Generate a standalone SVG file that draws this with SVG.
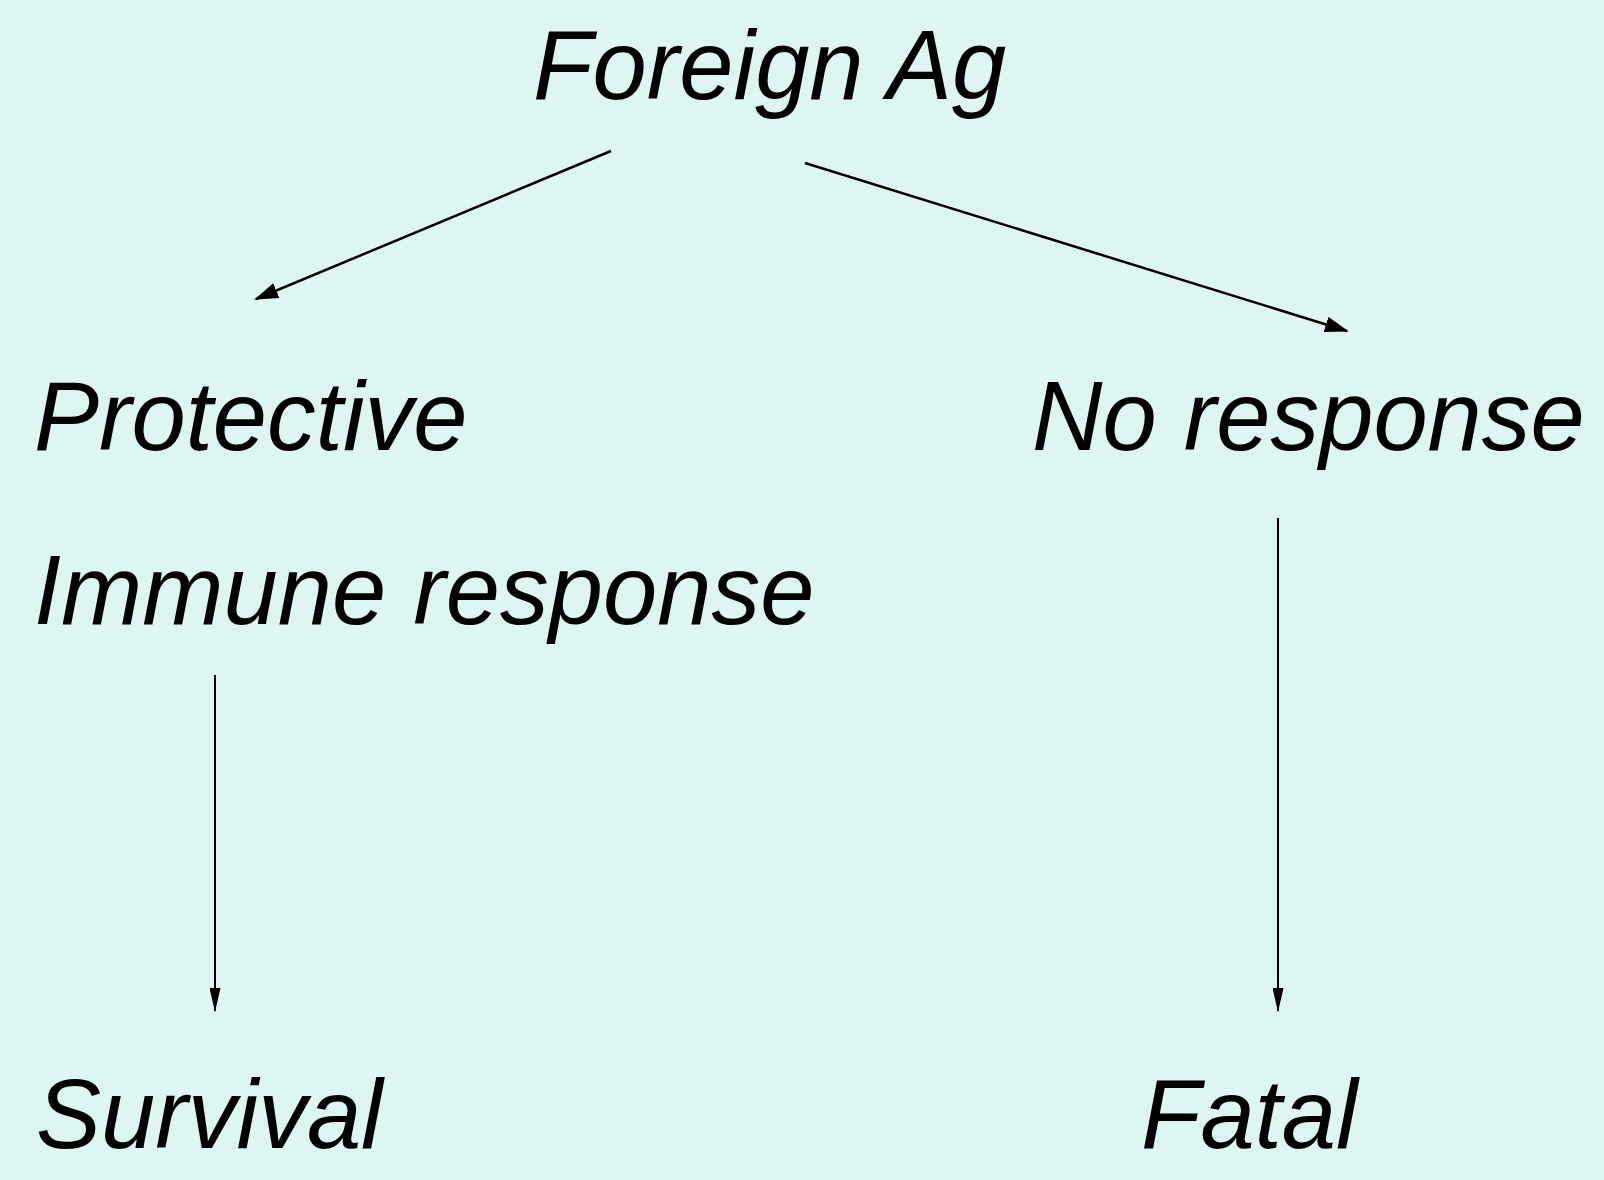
<svg xmlns="http://www.w3.org/2000/svg" width="1604" height="1180" viewBox="0 0 1604 1180">
<style>
.t{font-family:"Liberation Sans",Arial,sans-serif;font-style:italic;font-size:97.5px;fill:#000}
.c{stroke:#000;stroke-width:2.5;fill:none}
.v{stroke:#000;stroke-width:2;fill:none}
</style>
<defs>
<marker id="ah" viewBox="0 0 24 16" refX="22" refY="8" markerWidth="24" markerHeight="16" markerUnits="userSpaceOnUse" orient="auto"><path d="M0,0 L24,8 L0,16 Z" fill="#000"/></marker>
<marker id="av" viewBox="0 0 24 11" refX="23" refY="5.5" markerWidth="24" markerHeight="11" markerUnits="userSpaceOnUse" orient="auto"><path d="M0,0 L24,5.5 L0,11 Z" fill="#000"/></marker>
</defs>
<rect width="1604" height="1180" fill="#DDF6F1"/>
<g id="connectors">
<line class="c" x1="611" y1="151" x2="256" y2="299" marker-end="url(#ah)"/>
<line class="c" x1="805" y1="163" x2="1347" y2="331" marker-end="url(#ah)"/>
<line class="v" x1="215" y1="675" x2="215" y2="1011" marker-end="url(#av)"/>
<line class="v" x1="1278" y1="518" x2="1278" y2="1011" marker-end="url(#av)"/>
</g>
<g id="foreign"><text class="t" x="533" y="99">Foreign Ag</text></g>
<g id="protective"><text class="t" x="34" y="450">Protective</text><text class="t" x="34" y="624">Immune response</text></g>
<g id="noresponse"><text class="t" x="1032" y="450">No response</text></g>
<g id="survival"><text class="t" x="36" y="1148">Survival</text></g>
<g id="fatal"><text class="t" x="1141" y="1148">Fatal</text></g>
</svg>
